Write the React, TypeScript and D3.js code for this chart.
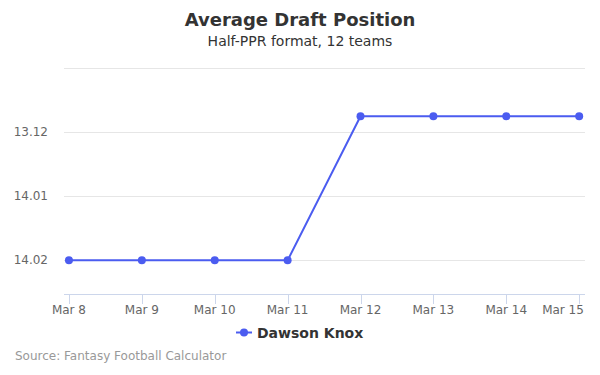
import { useEffect, useRef } from "react";
import * as d3 from "d3";

// chart data
const dates = ["Mar 8", "Mar 9", "Mar 10", "Mar 11", "Mar 12", "Mar 13", "Mar 14", "Mar 15"];
const adpValues = [158, 158, 158, 158, 155.75, 155.75, 155.75, 155.75];
const yTicks = [155, 156, 157, 158];
const labelledTicks = [156, 157, 158]; // top gridline has no label
const seriesName = "Dawson Knox";

const WIDTH = 600;
const HEIGHT = 375;
const COLOR = "#4b5cf0";
const FONT = "'DejaVu Sans', sans-serif";

// overall pick -> "round.pick" for 12 teams
const toRoundPick = (v: number) => {
  const round = Math.floor((v - 1) / 12) + 1;
  const pick = ((v - 1) % 12) + 1;
  return `${round}.${String(pick).padStart(2, "0")}`;
};

export default function App() {
  const svgRef = useRef<SVGSVGElement>(null);

  useEffect(() => {
    const svg = d3.select(svgRef.current);
    svg.selectAll("*").remove();

    const x = d3.scaleLinear().domain([-0.068, 7.08]).range([64, 585]);
    // reversed: smaller pick at the top
    const y = d3.scaleLinear().domain([155, 158.53]).range([68.3, 294.3]);

    // title + subtitle
    svg.append("text")
      .attr("x", 300).attr("y", 25.5)
      .attr("text-anchor", "middle")
      .style("font", `bold 18px ${FONT}`)
      .attr("fill", "#333333")
      .text("Average Draft Position");
    svg.append("text")
      .attr("x", 300).attr("y", 45.5)
      .attr("text-anchor", "middle")
      .style("font", `14px ${FONT}`)
      .attr("fill", "#333333")
      .text("Half-PPR format, 12 teams");

    // gridlines
    svg.append("g")
      .selectAll("line")
      .data(yTicks)
      .join("line")
      .attr("x1", 64).attr("x2", 585)
      .attr("y1", (d) => Math.round(y(d)) + 0.5)
      .attr("y2", (d) => Math.round(y(d)) + 0.5)
      .attr("stroke", "#e6e6e6");

    // y labels
    svg.append("g")
      .selectAll("text")
      .data(labelledTicks)
      .join("text")
      .attr("x", 48).attr("y", (d) => y(d) + 4)
      .attr("text-anchor", "end")
      .style("font", `12px ${FONT}`)
      .attr("fill", "#666666")
      .text((d) => toRoundPick(d));

    // x axis
    const xAxis = svg.append("g");
    xAxis.append("line")
      .attr("x1", 64).attr("x2", 585)
      .attr("y1", 294.5).attr("y2", 294.5)
      .attr("stroke", "#ccd6eb");
    xAxis.selectAll("line.tick")
      .data(dates)
      .join("line")
      .attr("class", "tick")
      .attr("x1", (_, i) => Math.round(x(i)) + 0.5)
      .attr("x2", (_, i) => Math.round(x(i)) + 0.5)
      .attr("y1", 294).attr("y2", 304)
      .attr("stroke", "#ccd6eb");
    xAxis.selectAll("text")
      .data(dates)
      .join("text")
      .attr("x", (_, i) => Math.min(x(i), 563))
      .attr("y", 314)
      .attr("text-anchor", "middle")
      .style("font", `12px ${FONT}`)
      .attr("fill", "#666666")
      .text((d) => d);

    // series line
    const line = d3.line<number>()
      .x((_, i) => x(i))
      .y((d) => y(d));
    svg.append("path")
      .datum(adpValues)
      .attr("d", line)
      .attr("fill", "none")
      .attr("stroke", COLOR)
      .attr("stroke-width", 2)
      .attr("stroke-linejoin", "round");
    svg.append("g")
      .selectAll("circle")
      .data(adpValues)
      .join("circle")
      .attr("cx", (_, i) => x(i))
      .attr("cy", (d) => y(d))
      .attr("r", 4)
      .attr("fill", COLOR);

    // legend
    const legend = svg.append("g");
    legend.append("line")
      .attr("x1", 236).attr("x2", 252)
      .attr("y1", 332.5).attr("y2", 332.5)
      .attr("stroke", COLOR).attr("stroke-width", 2);
    legend.append("circle")
      .attr("cx", 244).attr("cy", 332.5).attr("r", 4)
      .attr("fill", COLOR);
    legend.append("text")
      .attr("x", 257).attr("y", 337.5)
      .style("font", `bold 14px ${FONT}`)
      .attr("fill", "#333333")
      .text(seriesName);

    // credits
    svg.append("text")
      .attr("x", 15).attr("y", 360)
      .style("font", `12px ${FONT}`)
      .attr("fill", "#999999")
      .text("Source: Fantasy Football Calculator");
  }, []);

  return (
    <svg
      ref={svgRef}
      width={WIDTH}
      height={HEIGHT}
      style={{ position: "absolute", left: 0, top: 0, background: "#fff" }}
    />
  );
}
